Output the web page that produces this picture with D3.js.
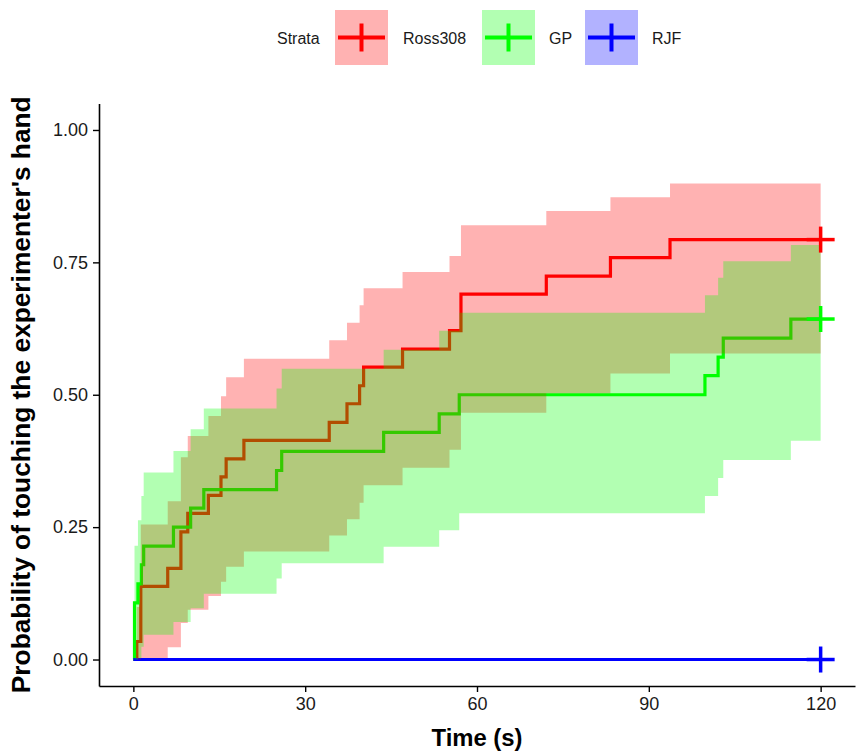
<!DOCTYPE html>
<html>
<head>
<meta charset="utf-8">
<script src="https://cdn.jsdelivr.net/npm/d3@7"></script>
<style>
  html, body { margin: 0; padding: 0; background: #fff; }
  svg { display: block; font-family: "Liberation Sans", Arial, sans-serif; }
</style>
</head>
<body>
<svg id="chart" width="858" height="756"></svg>
<script>
// ---- data ----
const strata = ["Ross308", "GP", "RJF"];
const strataColors = ["#FF0000", "#00FF00", "#0000FF"];

const rossTime  = [0, 0.6, 1.3, 6.0, 8.3, 9.5, 13.1, 15.3, 16.2, 19.3, 34.2, 37.3, 39.5, 40.2, 47.0, 55.2, 57.2, 72.1, 83.3, 93.7, 120];
const rossEst   = [0, 0.034, 0.138, 0.172, 0.241, 0.276, 0.310, 0.345, 0.379, 0.414, 0.448, 0.483, 0.517, 0.552, 0.586, 0.621, 0.690, 0.724, 0.759, 0.793, 0.793];
const rossUpper = [0, 0.099, 0.255, 0.299, 0.382, 0.422, 0.460, 0.497, 0.533, 0.568, 0.603, 0.636, 0.669, 0.701, 0.732, 0.762, 0.820, 0.847, 0.873, 0.899, 0.899];
const rossLower = [0, 0, 0.003, 0.023, 0.069, 0.094, 0.120, 0.147, 0.175, 0.204, 0.234, 0.265, 0.296, 0.329, 0.362, 0.396, 0.466, 0.503, 0.540, 0.578, 0.578];

const gpTime  = [0, 0.2, 0.8, 1.4, 1.8, 7.0, 10.0, 12.3, 25.0, 25.9, 43.7, 53.4, 56.9, 99.8, 102.1, 103.0, 114.8, 120];
const gpEst   = [0, 0.107, 0.143, 0.179, 0.214, 0.250, 0.286, 0.321, 0.357, 0.393, 0.429, 0.464, 0.500, 0.536, 0.571, 0.607, 0.643, 0.643];
const gpUpper = [0, 0.215, 0.263, 0.309, 0.353, 0.394, 0.435, 0.474, 0.512, 0.549, 0.585, 0.621, 0.655, 0.688, 0.721, 0.752, 0.783, 0.783];
const gpLower = [0, 0, 0.003, 0.024, 0.047, 0.071, 0.097, 0.124, 0.153, 0.182, 0.213, 0.244, 0.276, 0.309, 0.343, 0.377, 0.413, 0.413];

const rjfTime  = [0, 120];
const rjfEst   = [0, 0];
const rjfUpper = [0, 0];
const rjfLower = [0, 0];

const censorTime = [120, 120, 120];
const censorEst  = [0.793, 0.643, 0];

const xTicks = [0, 30, 60, 90, 120];
const yTicks = [0, 0.25, 0.5, 0.75, 1];
const yTickLabels = ["0.00", "0.25", "0.50", "0.75", "1.00"];

const xTitle = "Time (s)";
const yTitle = "Probability of touching the experimenter's hand";
const legendTitle = "Strata";

// ---- build ----
const series = [
  {name: strata[0], color: strataColors[0], t: rossTime, e: rossEst, u: rossUpper, l: rossLower},
  {name: strata[1], color: strataColors[1], t: gpTime, e: gpEst, u: gpUpper, l: gpLower},
  {name: strata[2], color: strataColors[2], t: rjfTime, e: rjfEst, u: rjfUpper, l: rjfLower}
].map(s => ({...s, pts: s.t.map((t, i) => ({t, e: s.e[i], u: s.u[i], l: s.l[i]}))}));

const panel = {left: 99, right: 855, top: 103.5, bottom: 686};
const x = d3.scaleLinear().domain([-6, 126]).range([panel.left, panel.right]);
const y = d3.scaleLinear().domain([-0.05, 1.05]).range([panel.bottom, panel.top]);

const svg = d3.select("#chart");
const font = "'Liberation Sans', Arial, sans-serif";

// lines first (ribbons are drawn on top with alpha, as in the reference)
const line = d3.line().x(d => x(d.t)).y(d => y(d.e)).curve(d3.curveStepAfter);
const area = d3.area().x(d => x(d.t)).y0(d => y(d.l)).y1(d => y(d.u)).curve(d3.curveStepAfter);

const gLines = svg.append("g");
series.forEach(s => {
  gLines.append("path").datum(s.pts)
    .attr("d", line).attr("fill", "none")
    .attr("stroke", s.color).attr("stroke-width", 3.2)
    .attr("stroke-linejoin", "miter").attr("stroke-linecap", "butt");
});
const gRib = svg.append("g");
series.forEach(s => {
  gRib.append("path").datum(s.pts)
    .attr("d", area).attr("fill", s.color).attr("fill-opacity", 0.3).attr("stroke", "none");
});

// censor marks
const gCens = svg.append("g");
series.forEach((s, i) => {
  const cx = x(censorTime[i]), cy = y(censorEst[i]);
  gCens.append("line").attr("x1", cx - 14).attr("x2", cx + 14).attr("y1", cy).attr("y2", cy)
    .attr("stroke", s.color).attr("stroke-width", 3.5);
  gCens.append("line").attr("x1", cx).attr("x2", cx).attr("y1", cy - 13).attr("y2", cy + 13)
    .attr("stroke", s.color).attr("stroke-width", 3.5);
});

// axes
const xAxis = d3.axisBottom(x).tickValues(xTicks).tickSizeInner(6).tickSizeOuter(0).tickPadding(5);
const yAxis = d3.axisLeft(y).tickValues(yTicks).tickFormat((d, i) => yTickLabels[i]).tickSizeInner(6).tickSizeOuter(0).tickPadding(5);

const gx = svg.append("g").attr("transform", `translate(0,${panel.bottom})`).call(xAxis);
const gy = svg.append("g").attr("transform", `translate(${panel.left},0)`).call(yAxis);
[gx, gy].forEach(g => {
  g.select(".domain").attr("stroke", "#000").attr("stroke-width", 1.6);
  g.selectAll(".tick line").attr("stroke", "#000").attr("stroke-width", 1.4);
  g.selectAll(".tick text").attr("fill", "#1a1a1a").style("font-family", font).style("font-size", "18px");
});

// axis titles
const xt = svg.append("text").attr("x", (panel.left + panel.right) / 2).attr("y", 746)
  .attr("text-anchor", "middle").style("font-family", font).style("font-weight", "bold")
  .style("font-size", "22px").attr("fill", "#000").text(xTitle);
const yt = svg.append("text")
  .attr("transform", `translate(30,${(panel.top + panel.bottom) / 2}) rotate(-90)`)
  .attr("text-anchor", "middle").style("font-family", font).style("font-weight", "bold")
  .style("font-size", "22px").attr("fill", "#000").text(yTitle);
// fit the y title to the length seen in the reference
const ylen = yt.node().getComputedTextLength();
yt.style("font-size", (22 * 597 / ylen).toFixed(2) + "px");
const xlen = xt.node().getComputedTextLength();
xt.style("font-size", (22 * 91 / xlen).toFixed(2) + "px");

// legend
const legend = svg.append("g");
legend.append("text").attr("x", 277).attr("y", 44).style("font-family", font).style("font-size", "16px")
  .attr("fill", "#1a1a1a").text(legendTitle);
const keyX = [335, 482, 585];
const labX = [403, 549, 652];
series.forEach((s, i) => {
  const kx = keyX[i], ky = 10, kw = 53, kh = 55;
  legend.append("rect").attr("x", kx).attr("y", ky).attr("width", kw).attr("height", kh)
    .attr("fill", s.color).attr("fill-opacity", 0.3);
  const cx = kx + kw / 2, cy = ky + kh / 2;
  legend.append("line").attr("x1", kx + 3).attr("x2", kx + kw - 3).attr("y1", cy).attr("y2", cy)
    .attr("stroke", s.color).attr("stroke-width", 4);
  legend.append("line").attr("x1", cx).attr("x2", cx).attr("y1", cy - 14).attr("y2", cy + 14)
    .attr("stroke", s.color).attr("stroke-width", 4);
  legend.append("text").attr("x", labX[i]).attr("y", 44).style("font-family", font).style("font-size", "16px")
    .attr("fill", "#1a1a1a").text(s.name);
});
</script>
</body>
</html>
